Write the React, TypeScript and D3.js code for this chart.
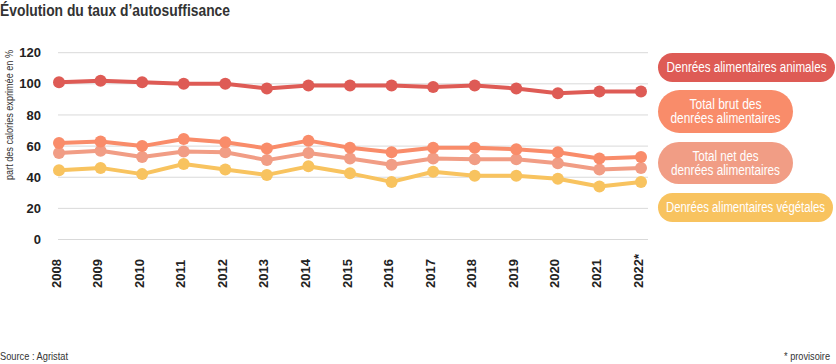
import React, { useEffect, useRef } from 'react';
import * as d3 from 'd3';

const years = ['2008', '2009', '2010', '2011', '2012', '2013', '2014', '2015', '2016', '2017', '2018', '2019', '2020', '2021', '2022*'];

const animales = [101, 102, 101, 100, 100, 97, 99, 99, 99, 98, 99, 97, 94, 95, 95];
const totalBrut = [62, 63, 60, 64.5, 62.5, 58.5, 63.5, 59, 56, 59, 59, 58, 56, 52, 53];
const totalNet = [55.5, 57, 53, 56.5, 56, 51, 55.5, 52, 48, 52, 51.5, 51.5, 49, 45, 46];
const vegetales = [44.5, 46, 42, 48.5, 45, 41.5, 47, 42.5, 37, 43.5, 41, 41, 39, 34, 37];

const yTicks = [0, 20, 40, 60, 80, 100, 120];

const series = [
    { name: ['Denrées alimentaires végétales'], values: vegetales, color: '#f8c35f' },
    { name: ['Total net des', 'denrées alimentaires'], values: totalNet, color: '#f19d85' },
    { name: ['Total brut des', 'denrées alimentaires'], values: totalBrut, color: '#f98c6a' },
    { name: ['Denrées alimentaires animales'], values: animales, color: '#de5b55' },
];

// legend pills, top to bottom
const legendOrder = [3, 2, 1, 0];

export default function App() {
    const ref = useRef<SVGSVGElement>(null);

    useEffect(() => {
        const width = 836;
        const font = '"Liberation Sans", Arial, sans-serif';

        const svg = d3.select(ref.current);
        svg.selectAll('*').remove();

        const x = d3.scalePoint<string>()
            .domain(years)
            .range([59, 641]);

        const y = d3.scaleLinear()
            .domain([0, 120])
            .range([239.5, 52.7]);

        // condensed look: squeeze text to the width seen in the reference
        const squeeze = (sel, w) => sel.attr('textLength', w).attr('lengthAdjust', 'spacingAndGlyphs');

        svg.append('text')
            .attr('x', 0)
            .attr('y', 16)
            .attr('font-family', font)
            .attr('font-weight', 'bold')
            .attr('font-size', 17)
            .attr('fill', '#333')
            .text('Évolution du taux d’autosuffisance')
            .call(squeeze, 230);

        // grid
        svg.append('g')
            .selectAll('line')
            .data(yTicks)
            .join('line')
            .attr('x1', 58)
            .attr('x2', 648)
            .attr('y1', d => y(d))
            .attr('y2', d => y(d))
            .attr('stroke', '#d9d9d9')
            .attr('stroke-width', 1);

        svg.append('g')
            .selectAll('text')
            .data(yTicks)
            .join('text')
            .attr('x', 41)
            .attr('y', d => y(d))
            .attr('dy', '0.35em')
            .attr('text-anchor', 'end')
            .attr('font-family', font)
            .attr('font-weight', 'bold')
            .attr('font-size', 13)
            .attr('fill', '#222')
            .text(d => d);

        svg.append('text')
            .attr('transform', 'translate(9,115) rotate(-90)')
            .attr('text-anchor', 'middle')
            .attr('dy', '0.35em')
            .attr('font-family', font)
            .attr('font-size', 11)
            .attr('fill', '#333')
            .text('part des calories exprimée en %')
            .call(squeeze, 130);

        svg.append('g')
            .selectAll('text')
            .data(years)
            .join('text')
            .attr('transform', d => `translate(${x(d)! - 3},288) rotate(-90)`)
            .attr('dy', '0.35em')
            .attr('text-anchor', 'start')
            .attr('font-family', font)
            .attr('font-weight', 'bold')
            .attr('font-size', 13)
            .attr('fill', '#222')
            .text(d => d);

        const line = d3.line<number>()
            .x((d, i) => x(years[i])!)
            .y(d => y(d));

        series.forEach(s => {
            const g = svg.append('g');
            g.append('path')
                .datum(s.values)
                .attr('fill', 'none')
                .attr('stroke', s.color)
                .attr('stroke-width', 4)
                .attr('stroke-linejoin', 'round')
                .attr('d', line);
            g.selectAll('circle')
                .data(s.values)
                .join('circle')
                .attr('cx', (d, i) => x(years[i])!)
                .attr('cy', d => y(d))
                .attr('r', 6)
                .attr('fill', s.color);
        });

        // legend
        const pills = [
            { y: 53, h: 29, w: 177, tw: [160] },
            { y: 90, h: 43, w: 135, tw: [72, 110] },
            { y: 142, h: 42, w: 135, tw: [66, 109] },
            { y: 193, h: 29, w: 175, tw: [159] },
        ];
        legendOrder.forEach((si, k) => {
            const s = series[si];
            const p = pills[k];
            const g = svg.append('g').attr('transform', `translate(658,${p.y})`);
            g.append('rect')
                .attr('width', p.w)
                .attr('height', p.h)
                .attr('rx', p.h / 2)
                .attr('fill', s.color);
            const lh = 14;
            s.name.forEach((t, j) => {
                g.append('text')
                    .attr('x', p.w / 2)
                    .attr('y', p.h / 2 + (j - (s.name.length - 1) / 2) * lh)
                    .attr('dy', '0.35em')
                    .attr('text-anchor', 'middle')
                    .attr('font-family', font)
                    .attr('font-size', 14)
                    .attr('fill', '#fff')
                    .text(t)
                    .call(squeeze, p.tw[j]);
            });
        });

        svg.append('text')
            .attr('x', 0)
            .attr('y', 360)
            .attr('font-family', font)
            .attr('font-size', 11)
            .attr('fill', '#333')
            .text('Source : Agristat')
            .call(squeeze, 68);

        svg.append('text')
            .attr('x', width - 6)
            .attr('y', 360)
            .attr('text-anchor', 'end')
            .attr('font-family', font)
            .attr('font-size', 11)
            .attr('fill', '#333')
            .text('* provisoire')
            .call(squeeze, 46);
    }, []);

    return <svg ref={ref} width={836} height={364}
        style={{ position: 'absolute', left: 0, top: 0, background: '#fff' }} />;
}
